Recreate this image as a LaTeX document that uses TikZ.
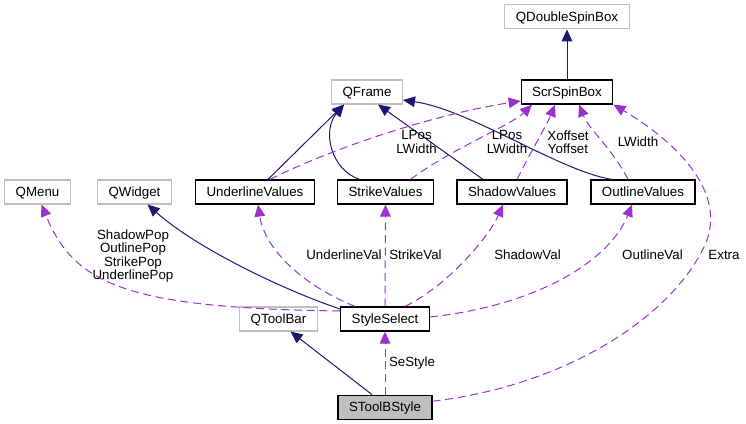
\documentclass[tikz,border=0pt]{standalone}
\usepackage{fontspec}
\setmainfont{Liberation Sans}
\usetikzlibrary{
  arrows.meta, % for arrow tips
  positioning}
\definecolor{inheritblue}{HTML}{191970}
\definecolor{memberviolet}{HTML}{9A32CD}
\definecolor{extgray}{HTML}{BFBFBF}
\tikzset{
  class box/.style={
    shape=rectangle, draw=#1, minimum height=18pt,
    inner xsep=8.25pt, inner ysep=0pt, text height=7.16pt, text depth=0pt},
  doc box/.style={class box=black, line width=.9pt},
  ext box/.style={class box=extgray, line width=.8pt},
  focus box/.style={doc box, fill=extgray},
  inherit line/.style={->, draw=inheritblue, line width=.75pt},
  member line/.style={->, draw=memberviolet, line width=.75pt,
    dash pattern=on 6pt off 3.5pt},
  member label/.style={align=center, inner sep=0pt}
}

\begin{document}
\begin{tikzpicture}[
  x=.75pt, y=-.75pt,
  >={Triangle[length=9pt, width=8pt]},
  font=\fontsize{10}{10}\selectfont]

\useasboundingbox (0,0) rectangle (746,424);

% classes, top to bottom
\node[doc box]                       (scr)    at (567,92)    {ScrSpinBox};
\node[ext box, above=37.5pt of scr]  (qdsb)                  {QDoubleSpinBox};
\node[ext box]                       (qframe) at (367,92)    {QFrame};
\node[ext box]                       (qmenu)  at (37.5,192)  {QMenu};
\node[ext box]                       (qwidget) at (134.5,192) {QWidget};
\node[doc box]                       (ulv)    at (255,192)   {UnderlineValues};
\node[doc box]                       (stv)    at (385.5,192) {StrikeValues};
\node[doc box]                       (shv)    at (512,192)   {ShadowValues};
\node[doc box]                       (olv)    at (643,192)   {OutlineValues};
\node[ext box]                       (qtb)    at (278.5,319) {QToolBar};
\node[doc box]                       (ssel)   at (385,319)   {StyleSelect};
\node[focus box, below=47.25pt of ssel] (stb)                {SToolBStyle};

% inheritance
\draw[inherit line] (scr.north) -- (qdsb.south);
\draw[inherit line] ([shift={(13,0)}]ulv.north) -- ([shift={(-23,0)}]qframe.south);
\draw[inherit line] ([shift={(-29,0)}]shv.north) -- ([shift={(11,0)}]qframe.south);
\draw[inherit line] ([shift={(-13,0)}]stb.north) -- ([shift={(12,0)}]qtb.south);
\draw[inherit line] ([shift={(-26,0)}]stv.north)
  .. controls +(-29,-10) and +(-22,26) .. ([shift={(-23,0)}]qframe.south);
\draw[inherit line] ([shift={(-31,0)}]olv.north)
  .. controls +(-52,-8) and +(68,10) .. ([shift={(0,8)}]qframe.east);
\draw[inherit line] ([shift={(0,-10)}]ssel.west)
  .. controls +(-51,-17) and +(52,46) .. ([shift={(13,0)}]qwidget.south);

% members
\draw[member line] (ssel.north) -- (stv.south);
\draw[member line] (stb.north) -- (ssel.south);
\draw[member line] ([shift={(0,-8)}]ssel.west)
  .. controls +(-211,-3) and +(33,81) .. ([shift={(4,0)}]qmenu.south);
\draw[member line] ([shift={(-30,0)}]ssel.north)
  .. controls +(-50,-20) and +(7,46) .. ([shift={(3,0)}]ulv.south);
\draw[member line] ([shift={(20,0)}]ssel.north)
  .. controls +(45,-22) and +(-13,30) .. ([shift={(-9,0)}]shv.south);
\draw[member line] ([shift={(0,-2)}]ssel.east)
  .. controls +(110,-12) and +(-22,55) .. ([shift={(-11,0)}]olv.south);
\draw[member line] ([shift={(0,-6)}]stb.east)
  .. controls +(129,-15) and +(-35,75) .. (705,245)
  .. controls +(20,-45) and +(77,46) .. (scr.south east);
\draw[member line] ([shift={(15,0)}]ulv.north)
  .. controls +(60,-30) and +(-90,14) .. ([shift={(0,9)}]scr.west);
\draw[member line] ([shift={(25,0)}]stv.north)
  .. controls +(40,-30) and +(-20,20) .. ([shift={(-35,0)}]scr.south);
\draw[member line] ([shift={(5,0)}]shv.north)
  .. controls +(15,-30) and +(-8,20) .. ([shift={(-12,0)}]scr.south);
\draw[member line] ([shift={(-15,0)}]olv.north)
  .. controls +(-15,-30) and +(10,25) .. ([shift={(12,0)}]scr.south);

% member names
\node[member label] (l-pop)    at (133,256) {ShadowPop\\OutlinePop\\StrikePop\\UnderlinePop};
\node[member label] (l-ulv)    at (344,255) {UnderlineVal};
\node[member label] (l-stv)    at (415.5,255) {StrikeVal};
\node[member label] (l-shv)    at (527.5,255) {ShadowVal};
\node[member label] (l-olv)    at (652.5,255) {OutlineVal};
\node[member label] (l-extra)  at (724,255) {Extra};
\node[member label] (l-se)     at (412,363) {SeStyle};
\node[member label] (l-lpos-a) at (416.5,142) {LPos\\LWidth};
\node[member label] (l-lpos-b) at (507,142) {LPos\\LWidth};
\node[member label] (l-off)    at (568,142) {Xoffset\\Yoffset};
\node[member label] (l-lwidth) at (638,142) {LWidth};
\end{tikzpicture}
\end{document}
